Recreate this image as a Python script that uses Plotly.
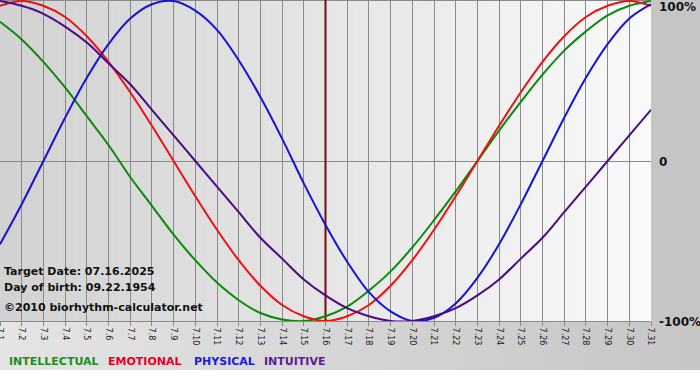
import plotly.graph_objects as go

# ---------------- data ----------------
days = ["7.1", "7.2", "7.3", "7.4", "7.5", "7.6", "7.7", "7.8", "7.9", "7.10",
        "7.11", "7.12", "7.13", "7.14", "7.15", "7.16", "7.17", "7.18", "7.19", "7.20",
        "7.21", "7.22", "7.23", "7.24", "7.25", "7.26", "7.27", "7.28", "7.29", "7.30", "7.31"]

intellectual = [0.87, 0.76, 0.62, 0.46, 0.28, 0.10, -0.10, -0.28, -0.46, -0.62,
                -0.76, -0.87, -0.95, -0.99, -1.00, -0.97, -0.91, -0.81, -0.69, -0.54,
                -0.37, -0.19, 0.00, 0.19, 0.37, 0.54, 0.69, 0.81, 0.91, 0.97, 1.00]

emotional = [0.97, 1.00, 0.97, 0.90, 0.78, 0.62, 0.43, 0.22, 0.00, -0.22,
             -0.43, -0.62, -0.78, -0.90, -0.97, -1.00, -0.97, -0.90, -0.78, -0.62,
             -0.43, -0.22, 0.00, 0.22, 0.43, 0.62, 0.78, 0.90, 0.97, 1.00, 0.97]

physical = [-0.52, -0.27, 0.00, 0.27, 0.52, 0.73, 0.89, 0.98, 1.00, 0.94,
            0.82, 0.63, 0.40, 0.14, -0.14, -0.40, -0.63, -0.82, -0.94, -1.00,
            -0.98, -0.89, -0.73, -0.52, -0.27, 0.00, 0.27, 0.52, 0.73, 0.89, 0.98]

intuitive = [1.00, 0.97, 0.92, 0.84, 0.74, 0.61, 0.48, 0.32, 0.16, 0.00,
             -0.16, -0.32, -0.48, -0.61, -0.74, -0.84, -0.92, -0.97, -1.00, -1.00,
             -0.97, -0.92, -0.84, -0.74, -0.61, -0.48, -0.32, -0.16, 0.00, 0.16, 0.32]

target_day = "7.16"
y_tick_vals = [1, 0, -1]
y_tick_text = ["100%", "0", "-100%"]
info_lines = ["Target Date: 07.16.2025", "Day of birth: 09.22.1954", "©2010 biorhythm-calculator.net"]
legend_names = ["INTELLECTUAL", "EMOTIONAL", "PHYSICAL", "INTUITIVE"]

# ---------------- styling ----------------
W, H = 700, 380
L, R, T, B = 0, 49, 0, 59
PW, PH = W - L - R, H - T - B  # 651 x 321

line_colors = ["#0a8a0a", "#ee1111", "#1414d8", "#4b0a84"]
legend_colors = ["#1a8f1a", "#e8001c", "#1a1ae0", "#5a1a9a"]
series = [intellectual, emotional, physical, intuitive]
FONT = "DejaVu Sans"


def pxx(x):
    return (x - L) / PW


def pxy(y):
    return (T + PH - y) / PH


fig = go.Figure()

# target-day marker line
fig.add_trace(go.Scatter(x=[target_day, target_day], y=[-1.0, 1.00625], mode="lines",
                         line=dict(color="#7a0a0a", width=2), hoverinfo="skip",
                         showlegend=False))

for name, vals, col in zip(legend_names, series, line_colors):
    fig.add_trace(go.Scatter(x=days, y=vals, mode="lines", name=name,
                             line=dict(color=col, width=2, shape="spline", smoothing=1.0),
                             showlegend=False))

shapes = []
# outer gray region (right column and band under the plot)
n_out = 35
for i in range(n_out):
    x0 = W * i / n_out
    x1 = W * (i + 1) / n_out
    c = int(round(228 - (228 - 198) * i / (n_out - 1)))
    shapes.append(dict(type="rect", xref="paper", yref="paper",
                       x0=pxx(x0), x1=pxx(x1), y0=pxy(370), y1=pxy(PH),
                       fillcolor=f"rgb({c},{c},{c})", line=dict(width=0), layer="below"))
shapes.append(dict(type="rect", xref="paper", yref="paper",
                   x0=pxx(PW), x1=pxx(W), y0=pxy(PH), y1=pxy(0),
                   fillcolor="rgb(197,197,197)", line=dict(width=0), layer="below"))
# plot-area gradient
n_in = 44
for i in range(n_in):
    x0 = PW * i / n_in
    x1 = PW * (i + 1) / n_in + 0.5
    c = int(round(210 - (210 - 249) * i / (n_in - 1)))
    shapes.append(dict(type="rect", xref="paper", yref="paper",
                       x0=pxx(x0), x1=pxx(min(x1, PW)), y0=0, y1=1,
                       fillcolor=f"rgb({c},{c},{c})", line=dict(width=0), layer="below"))
# thin top border of the plot area
shapes.append(dict(type="line", xref="paper", yref="paper", x0=0, x1=1, y0=pxy(0.5), y1=pxy(0.5),
                   line=dict(color="#8a8a8a", width=1), layer="below"))

annotations = []
# right-hand axis labels
label_shift = {"100%": -6, "0": -1, "-100%": -1}
for v, t in zip(y_tick_vals, y_tick_text):
    annotations.append(dict(xref="paper", yref="y", x=1, y=v, text=t, showarrow=False,
                            xanchor="left", yanchor="middle", xshift=6,
                            yshift=label_shift[t],
                            font=dict(family=FONT, size=12, color="#111111", weight="bold")))
# info text
for t, yp in zip(info_lines, [271, 287, 307]):
    annotations.append(dict(xref="paper", yref="paper", x=pxx(2), y=pxy(yp), text=t,
                            showarrow=False, xanchor="left", yanchor="middle",
                            font=dict(family=FONT, size=11, color="#111111", weight="bold")))
# legend
for t, c, xp in zip(legend_names, legend_colors, [7, 106, 192, 262]):
    annotations.append(dict(xref="paper", yref="paper", x=pxx(xp), y=pxy(362), text=t,
                            showarrow=False, xanchor="left", yanchor="middle",
                            font=dict(family=FONT, size=11, color=c, weight="bold")))

fig.update_layout(
    width=W, height=H,
    margin=dict(l=L, r=R, t=T, b=B, pad=0, autoexpand=False),
    paper_bgcolor="white",
    plot_bgcolor="rgba(0,0,0,0)",
    shapes=shapes,
    annotations=annotations,
    showlegend=False,
    xaxis=dict(type="category", categoryorder="array", categoryarray=days,
               range=[0, len(days) - 1], tickvals=days, ticktext=days,
               tickangle=90, ticks="outside", ticklen=4, tickcolor="#888888",
               showgrid=True, gridcolor="#8a8a8a", gridwidth=1,
               showline=True, linecolor="#8a8a8a", linewidth=1,
               tickfont=dict(family=FONT, size=8, color="#1a1a1a"),
               automargin=False, fixedrange=True),
    yaxis=dict(range=[-1.0, 1.00625], tickvals=y_tick_vals, showticklabels=False,
               showgrid=True, gridcolor="#8a8a8a", gridwidth=1,
               zeroline=True, zerolinecolor="#8a8a8a", zerolinewidth=1,
               showline=False, automargin=False, fixedrange=True),
)

fig.write_html("out.html", config={"displayModeBar": False},
               post_script="document.body.style.margin='0';document.body.style.overflow='hidden';")
